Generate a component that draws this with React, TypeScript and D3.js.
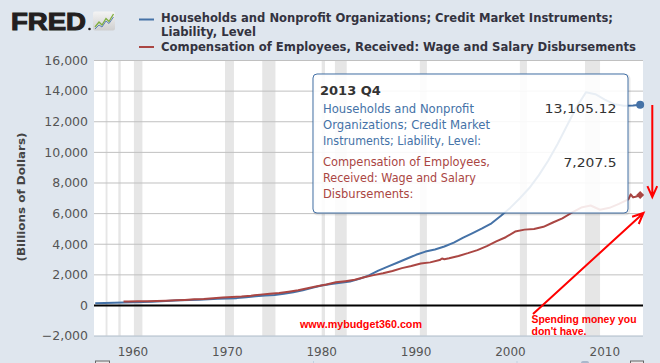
import React from 'react';
import * as d3 from 'd3';

// Households & nonprofits credit market debt (billions), by date
const debtDates = [
  1956, 1957, 1958, 1959, 1960, 1961, 1962, 1963, 1964, 1965, 1966, 1967, 1968, 1969,
  1970, 1971, 1972, 1973, 1974, 1975, 1976, 1977, 1978, 1979, 1980, 1981, 1982, 1983,
  1984, 1985, 1986, 1987, 1988, 1989, 1990, 1991, 1992, 1993, 1994, 1995, 1996, 1997,
  1998, 1999, 2000, 2001, 2002, 2003, 2004, 2005, 2006, 2007, 2008, 2009, 2010, 2011,
  2012, 2013, 2013.75,
];
const debtValues = [
  150, 165, 175, 192, 212, 228, 248, 274, 304, 335, 362, 380, 405, 437,
  458, 480, 530, 595, 655, 690, 760, 860, 995, 1150, 1300, 1400, 1480, 1560,
  1740, 1960, 2280, 2540, 2790, 3050, 3310, 3520, 3660, 3850, 4110, 4430, 4730, 5030,
  5370, 5860, 6390, 7000, 7670, 8500, 9450, 10550, 11750, 12950, 13920, 13800, 13450, 13150,
  13050, 13060, 13105.12,
];

// Wage and salary disbursements (billions), by date
const wageDates = [
  1959, 1959.5, 1960.5, 1961.5, 1962.5, 1963.5, 1964.5, 1965.5, 1966.5, 1967.5, 1968.5,
  1969.5, 1970.5, 1971.5, 1972.5, 1973.5, 1974.5, 1975.5, 1976.5, 1977.5, 1978.5, 1979.5,
  1980.5, 1981.5, 1982.5, 1983.5, 1984.5, 1985.5, 1986.5, 1987.5, 1988.5, 1989.5, 1990.5,
  1991.5, 1992.5, 1992.75, 1993, 1993.5, 1994.5, 1995.5, 1996.5, 1997.5, 1998.5, 1999.5,
  2000.5, 2001.5, 2002.5, 2003.5, 2004.5, 2005.5, 2006.5, 2007.5, 2008.5, 2009.5, 2010.5,
  2011.5, 2012.5, 2012.75, 2013, 2013.25, 2013.5, 2013.75,
];
const wageValues = [
  255, 260, 273, 281, 299, 315, 338, 364, 400, 429, 472,
  518, 552, 585, 639, 709, 772, 815, 900, 994, 1121, 1253,
  1373, 1511, 1588, 1678, 1845, 1983, 2102, 2256, 2440, 2583, 2741,
  2815, 2966, 3070, 3020, 3079, 3237, 3418, 3617, 3877, 4182, 4458,
  4826, 4954, 4996, 5139, 5421, 5692, 6057, 6395, 6532, 6251, 6378,
  6633, 6932, 7260, 7060, 7100, 7150, 7207.5,
];

const recessions: [number, number][] = [
  [1957.1, 1957.3], [1958.45, 1958.7], [1960.1, 1961.0], [1969.75, 1970.7],
  [1973.7, 1975.1], [1980.0, 1980.35], [1981.4, 1982.65], [1990.4, 1991.15],
  [2001.0, 2001.75], [2007.9, 2009.5],
];

const yTicks = [-2000, 0, 2000, 4000, 6000, 8000, 10000, 12000, 14000, 16000];
const xTicks = [1960, 1970, 1980, 1990, 2000, 2010];

const BLUE = '#4572A7';
const RED = '#AA4643';
const ANNO = '#FF0000';

const arrow = (x1: number, y1: number, x2: number, y2: number, len = 12, ang = 0.42) => {
  const a = Math.atan2(y2 - y1, x2 - x1);
  const w1 = [x2 - len * Math.cos(a - ang), y2 - len * Math.sin(a - ang)];
  const w2 = [x2 - len * Math.cos(a + ang), y2 - len * Math.sin(a + ang)];
  return `M${x1},${y1}L${x2},${y2}M${w1[0]},${w1[1]}L${x2},${y2}L${w2[0]},${w2[1]}`;
};

export default function App() {
  const left = 94, right = 643, top = 60.5, bottom = 336.1;
  const x = d3.scaleLinear().domain([1955.87, 2014.05]).range([left, right]);
  const y = d3.scaleLinear().domain([-2000, 16000]).range([bottom, top]);

  const line = d3.line<[number, number]>().x((d) => x(d[0])).y((d) => y(d[1]));
  const debt = line(debtDates.map((d, i) => [d, debtValues[i]]));
  const wages = line(wageDates.map((d, i) => [d, wageValues[i]]));

  const lastX = x(debtDates[debtDates.length - 1]);
  const lastDebtY = y(debtValues[debtValues.length - 1]);
  const lastWageY = y(wageValues[wageValues.length - 1]);

  const axisFont = 'DejaVu Sans, Verdana, sans-serif';

  return (
    <svg
      width={660}
      height={363}
      style={{ position: 'absolute', left: 0, top: 0 }}
      fontFamily={axisFont}
    >
      <rect x={0} y={0} width={660} height={363} fill="#DFE6EE" />

      {/* FRED logo */}
      <text x={11} y={29.5} fontFamily="Liberation Sans, Arial, sans-serif" fontWeight="bold"
        fontSize={24.5} fill="#231F20" stroke="#231F20" strokeWidth={1.1}
        textLength={75} lengthAdjust="spacingAndGlyphs">FRED</text>
      <circle cx={89.5} cy={29} r={1.3} fill="#231F20" />
      <defs>
        <linearGradient id="ico" x1="0" y1="0" x2="0" y2="1">
          <stop offset="0" stopColor="#F4F4F4" />
          <stop offset="1" stopColor="#CFCFCF" />
        </linearGradient>
      </defs>
      <rect x={93} y={11.5} width={22} height={19} rx={2} fill="url(#ico)" />
      <polyline points="95,27 99,22 102,25 106,18.5 109,21.5 113.5,14" fill="none" stroke="#7FAE3E" strokeWidth={1.3} />
      <polyline points="95,29 99,25 102,27 106,21 109,23.5 113.5,17" fill="none" stroke="#5B82B5" strokeWidth={1} />

      {/* legend */}
      <line x1={139} x2={154} y1={19.5} y2={19.5} stroke={BLUE} strokeWidth={2} />
      <line x1={139} x2={154} y1={47} y2={47} stroke={RED} strokeWidth={2} />
      <g fontWeight="bold" fontSize={11.5} fill="#333340">
        <text x={161} y={22} textLength={452} lengthAdjust="spacingAndGlyphs">
          Households and Nonprofit Organizations; Credit Market Instruments;
        </text>
        <text x={161} y={36} textLength={95} lengthAdjust="spacingAndGlyphs">Liability, Level</text>
        <text x={161} y={50.5} textLength={475} lengthAdjust="spacingAndGlyphs">
          Compensation of Employees, Received: Wage and Salary Disbursements
        </text>
      </g>

      {/* plot area */}
      <rect x={left} y={top} width={right - left} height={bottom - top} fill="#FFFFFF" />
      {recessions.map(([a, b], i) => (
        <rect key={i} x={x(a)} y={top} width={x(b) - x(a)} height={bottom - top} fill="#E6E6E6" />
      ))}
      {yTicks.map((t) => (
        <line key={t} x1={left} x2={right} y1={y(t)} y2={y(t)} stroke="#C0C0C0" strokeWidth={1} />
      ))}
      <line x1={left} x2={right} y1={bottom} y2={bottom} stroke="#C0D0E0" strokeWidth={1} />
      <line x1={left} x2={right} y1={y(0)} y2={y(0)} stroke="#000" strokeWidth={2.2} />

      {/* y axis */}
      <g fontSize={12.5} fill="#555" textAnchor="end">
        {yTicks.map((t) => (
          <text key={t} x={88} y={y(t) + 4.3}>{d3.format(',')(t)}</text>
        ))}
      </g>
      <text transform="translate(25,197) rotate(-90)" textAnchor="middle" fontWeight="bold"
        fontSize={11} fill="#444" textLength={129} lengthAdjust="spacingAndGlyphs">
        (Billions of Dollars)
      </text>

      {/* x axis */}
      <g fontSize={12} fill="#555" textAnchor="middle">
        {xTicks.map((t) => (
          <text key={t} x={x(t)} y={356}>{t}</text>
        ))}
      </g>

      {/* series */}
      <path d={debt ?? ''} fill="none" stroke={BLUE} strokeWidth={2} strokeLinejoin="round" />
      <path d={wages ?? ''} fill="none" stroke={RED} strokeWidth={2} strokeLinejoin="round" />

      {/* tooltip */}
      <rect x={314} y={75} width={315} height={139} rx={4} fill="none" stroke="#000" strokeOpacity={0.08} strokeWidth={3} />
      <rect x={313} y={74} width={315} height={139} rx={4} fill="#FFFFFF" fillOpacity={0.88} stroke={BLUE} strokeWidth={1} />
      <text x={320} y={95} fontWeight="bold" fontSize={13} fill="#333">2013 Q4</text>
      <g fontSize={11.5} fill={BLUE}>
        <text x={323} y={113} textLength={151} lengthAdjust="spacingAndGlyphs">Households and Nonprofit</text>
        <text x={323} y={129} textLength={167} lengthAdjust="spacingAndGlyphs">Organizations; Credit Market</text>
        <text x={323} y={145} textLength={158} lengthAdjust="spacingAndGlyphs">Instruments; Liability, Level:</text>
      </g>
      <g fontSize={11.5} fill={RED}>
        <text x={323} y={165.5} textLength={167} lengthAdjust="spacingAndGlyphs">Compensation of Employees,</text>
        <text x={323} y={181.5} textLength={153} lengthAdjust="spacingAndGlyphs">Received: Wage and Salary</text>
        <text x={323} y={197.5}>Disbursements:</text>
      </g>
      <g fontSize={12.5} fill="#333" textAnchor="end">
        <text x={616.5} y={113} textLength={72} lengthAdjust="spacingAndGlyphs">13,105.12</text>
        <text x={616.5} y={166.5} textLength={53} lengthAdjust="spacingAndGlyphs">7,207.5</text>
      </g>

      {/* end markers */}
      <circle cx={lastX} cy={lastDebtY} r={4} fill={BLUE} />
      <path d={`M${lastX},${lastWageY - 4}L${lastX + 4},${lastWageY}L${lastX},${lastWageY + 4}L${lastX - 4},${lastWageY}Z`} fill={RED} />

      {/* annotations */}
      <g fontFamily="Liberation Sans, Arial, sans-serif" fontWeight="bold" fill={ANNO}>
        <text x={300} y={328} fontSize={10.5} textLength={122} lengthAdjust="spacingAndGlyphs">www.mybudget360.com</text>
        <text x={531.5} y={322.7} fontSize={11} textLength={105} lengthAdjust="spacingAndGlyphs">Spending money you</text>
        <text x={531.5} y={335} fontSize={11} textLength={55} lengthAdjust="spacingAndGlyphs">don't have.</text>
      </g>
      <path d={arrow(652.3, 105, 652.3, 197)} fill="none" stroke={ANNO} strokeWidth={2} />
      <path d={arrow(533, 314, 643.5, 213)} fill="none" stroke={ANNO} strokeWidth={2} />

      {/* navigator top edge */}
      <rect x={95.5} y={361} width={14} height={8} fill="#EBE7E8" stroke="#666" strokeWidth={1} />
      <rect x={630.5} y={361} width={13} height={8} fill="#EBE7E8" stroke="#666" strokeWidth={1} />
      <line x1={313.5} x2={313.5} y1={361} y2={363} stroke="#C0D0E0" />
      <line x1={517} x2={517} y1={361} y2={363} stroke="#C0D0E0" />
      <rect x={581} y={361} width={8} height={4} rx={2} fill="#A9B8CC" />
    </svg>
  );
}
